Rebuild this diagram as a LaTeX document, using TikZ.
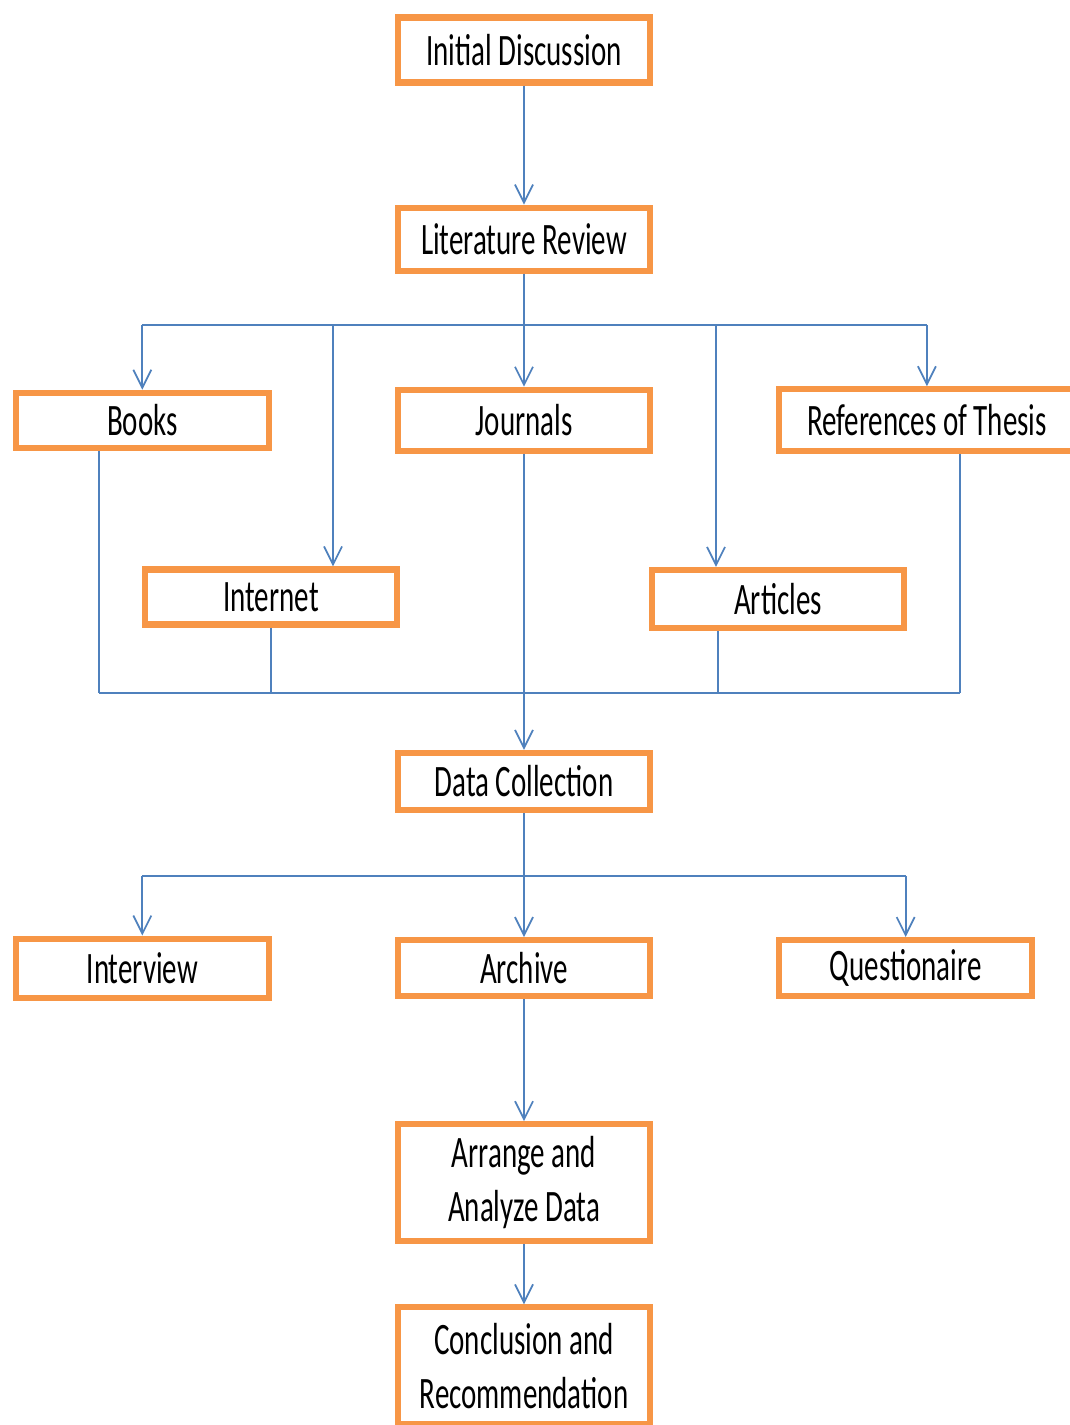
\documentclass[tikz,border=0pt]{standalone}
\usepackage{fontspec}
\setmainfont{Carlito}
\usetikzlibrary{arrows.meta, positioning}
\definecolor{boxorange}{HTML}{F79646}
\definecolor{lineblue}{HTML}{4F81BD}
\newcommand{\vtext}[1]{\scalebox{1}[1.55]{#1}}

\begin{document}
\begin{tikzpicture}[
        block/.style={rectangle, draw=boxorange, line width=3.5pt, fill=white, minimum width=5.05cm, minimum height=1.16cm, align=center, font=\fontsize{16.5}{31}\selectfont},
        link/.style={draw=lineblue, line width=1pt},
        arrow/.style={link, -{Straight Barb[length=0.36cm, width=0.36cm]}}
    ]
        \useasboundingbox (0,0) rectangle (21.38,-28.5);

        \node[block, minimum height=1.3cm] (init) at (10.48,-1.0) {\vtext{Initial Discussion}};
        \node[block, minimum height=1.26cm, below=2.38cm of init] (lit) {\vtext{Literature Review}};
        \node[block, minimum height=1.22cm, below=2.26cm of lit] (journals) {\vtext{Journals}};
        \node[block, minimum height=1.1cm, left=2.46cm of journals] (books) {\vtext{Books}};
        \node[block, minimum height=1.24cm, minimum width=5.9cm, right=2.46cm of journals] (refs) {\vtext{References of Thesis}};
        \node[block, minimum height=1.1cm] (internet) at (5.42,-11.94) {\vtext{Internet}};
        \node[block] (articles) at (15.56,-11.98) {\vtext{Articles}};
        \node[block, minimum height=1.14cm, below=5.92cm of journals] (data) {\vtext{Data Collection}};
        \node[block, minimum height=1.12cm, below=2.48cm of data] (archive) {\vtext{Archive}};
        \node[block, minimum height=1.18cm, left=2.46cm of archive] (interview) {\vtext{Interview}};
        \node[block, minimum height=1.12cm, right=2.46cm of archive] (quest) {\vtext{Questionaire}};
        \node[block, minimum height=2.34cm, below=2.44cm of archive] (arrange) {\vtext{Arrange and}\\\vtext{Analyze Data}};
        \node[block, minimum height=2.34cm, below=1.2cm of arrange] (concl) {\vtext{Conclusion and}\\\vtext{Recommendation}};

        % bus lines
        \coordinate (upbus) at (10.48,-6.5);
        \coordinate (lowbus) at (10.48,-13.86);
        \coordinate (midbus) at (10.48,-17.52);
        \coordinate (tapnet) at (6.66,-6.5);
        \coordinate (tapart) at (14.32,-6.5);
        \coordinate (dropbook) at (1.98,-13.86);
        \coordinate (dropart) at (14.36,-13.86);
        \coordinate (dropref) at (19.2,-13.86);

        \draw[arrow] (init) -- (lit);
        \draw[link] (lit) -- (upbus);
        \draw[link] (upbus -| books) -- (upbus -| refs);
        \draw[arrow] (upbus -| books) -- (books);
        \draw[arrow] (tapnet) -- (tapnet |- internet.north);
        \draw[arrow] (upbus) -- (journals);
        \draw[arrow] (tapart) -- (tapart |- articles.north);
        \draw[arrow] (upbus -| refs) -- (refs);

        \draw[link] (dropbook |- books.south) -- (dropbook);
        \draw[link] (internet) -- (internet |- lowbus);
        \draw[link] (dropart |- articles.south) -- (dropart);
        \draw[link] (dropref |- refs.south) -- (dropref);
        \draw[link] (dropbook) -- (dropref);
        \draw[arrow] (journals) -- (data);

        \draw[link] (data) -- (midbus);
        \draw[link] (midbus -| interview) -- (midbus -| quest);
        \draw[arrow] (midbus -| interview) -- (interview);
        \draw[arrow] (midbus) -- (archive);
        \draw[arrow] (midbus -| quest) -- (quest);
        \draw[arrow] (archive) -- (arrange);
        \draw[arrow] (arrange) -- (concl);
    \end{tikzpicture}
\end{document}
